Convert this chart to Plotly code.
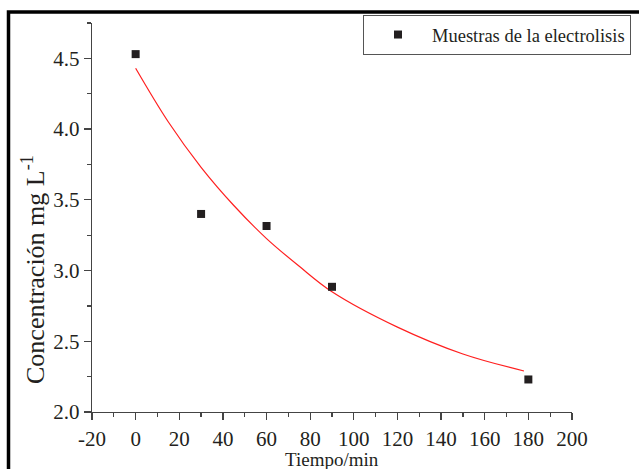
import plotly.graph_objects as go

# Measured samples
tiempo = [0, 30, 60, 90, 180]
concentracion = [4.53, 3.40, 3.315, 2.885, 2.23]

# Red fitted curve
fit_x = [0, 15, 30, 45, 60, 75, 90, 120, 150, 178]
fit_y = [4.43, 4.05, 3.73, 3.46, 3.226, 3.03, 2.85, 2.60, 2.41, 2.29]

x_ticks = list(range(-20, 201, 20))
x_ticklabels = [str(v) for v in x_ticks]
y_ticks = [2.0, 2.5, 3.0, 3.5, 4.0, 4.5]

serie_nombre = "Muestras de la electrolisis"
x_titulo = "Tiempo/min"
y_titulo = "Concentración mg L<sup>-1</sup>"

FONT = "Liberation Serif, Times New Roman, serif"
TXT = "#231f20"
AX = "#444444"

fig = go.Figure()
fig.add_trace(go.Scatter(
    x=fit_x, y=fit_y, mode="lines", line=dict(color="#ff1f1f", width=1.2, shape="spline"),
    showlegend=False, hoverinfo="skip"))
fig.add_trace(go.Scatter(
    x=tiempo, y=concentracion, mode="markers", name=serie_nombre,
    marker=dict(symbol="square", size=8, color=TXT)))

L, R, T, B = 92, 67, 23, 57
W, H = 639, 469

def px(xp):
    return (xp - L) / (W - L - R)

def py(yp):
    return (H - B - yp) / (H - T - B)

axis_common = dict(
    showline=True, linecolor=AX, linewidth=1.3,
    ticks="outside", ticklen=7, tickwidth=1.3, tickcolor=AX,
    showgrid=False, zeroline=False, mirror=False, automargin=False,
    tickfont=dict(size=21, family=FONT, color=TXT))

fig.update_layout(
    width=W, height=H,
    margin=dict(l=L, r=R, t=T, b=B, autoexpand=False),
    paper_bgcolor="white", plot_bgcolor="white",
    font=dict(family=FONT, color=TXT, size=20),
    showlegend=True,
    legend=dict(x=px(363), y=py(15), xanchor="left", yanchor="top",
                bordercolor="#555555", borderwidth=1, bgcolor="white",
                font=dict(family=FONT, size=18.5, color=TXT),
                itemwidth=58, tracegroupgap=0),
    xaxis=dict(range=[-20, 200], tickvals=x_ticks, ticktext=x_ticklabels,
               minor=dict(ticks="outside", ticklen=4, dtick=10, tick0=0, tickcolor=AX, tickwidth=1.3),
               **axis_common),
    yaxis=dict(range=[2.0, 4.75], tickvals=y_ticks, tickformat=".1f",
               minor=dict(ticks="outside", ticklen=4, dtick=0.25, tick0=2.0, tickcolor=AX, tickwidth=1.3),
               **axis_common),
    annotations=[
        dict(text=x_titulo, xref="paper", yref="paper", x=0.5, y=py(460),
             xanchor="center", yanchor="middle", showarrow=False,
             font=dict(size=19, family=FONT, color=TXT)),
        dict(text=y_titulo, xref="paper", yref="paper", x=px(33), y=py(270),
             xanchor="center", yanchor="middle", textangle=-90, showarrow=False,
             font=dict(size=26, family=FONT, color=TXT)),
    ],
    shapes=[
        dict(type="rect", xref="paper", yref="paper", x0=px(8.5), y0=py(520), x1=px(700), y1=py(12),
             line=dict(color="black", width=3.5), fillcolor="rgba(0,0,0,0)", layer="above"),
    ],
)

fig.write_html("out.html",
               config={"displayModeBar": False, "staticPlot": True},
               post_script="document.body.style.margin='0';document.body.style.overflow='hidden';")
